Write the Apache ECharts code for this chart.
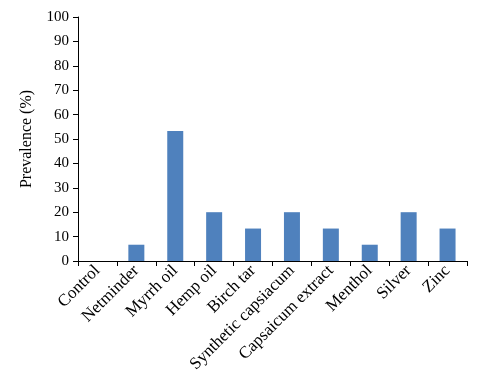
<!DOCTYPE html>
<html>
<head>
<meta charset="utf-8">
<script src="https://cdn.jsdelivr.net/npm/echarts@6/dist/echarts.min.js"></script>
<style>
  html, body { margin: 0; padding: 0; background: #fff; }
  #chart { width: 484px; height: 388px; }
</style>
</head>
<body>
<div id="chart"></div>
<script>
// treatments and prevalence values (%)
const categories = ["Control", "Netminder", "Myrrh oil", "Hemp oil", "Birch tar",
  "Synthetic capsiacum", "Capsaicum extract", "Menthol", "Silver", "Zinc"];
const prevalence = [0, 6.67, 53.3, 20, 13.3, 20, 13.3, 6.67, 20, 13.3];

const font = "'Liberation Serif', 'Times New Roman', serif";
const myChart = echarts.init(document.getElementById("chart"), null, { renderer: "canvas" });

const option = {
  animation: false,
  grid: { left: 78, right: 17, top: 17, bottom: 127, containLabel: false },
  xAxis: {
    type: "category",
    data: categories,
    axisLine: { lineStyle: { color: "#000", width: 1 } },
    axisTick: { show: true, length: 5, lineStyle: { color: "#000" } },
    axisLabel: {
      interval: 0,
      rotate: 45,
      color: "#000",
      fontFamily: font,
      fontSize: 17,
      margin: 7
    }
  },
  yAxis: {
    type: "value",
    min: 0,
    max: 100,
    interval: 10,
    name: "Prevalence (%)",
    nameLocation: "middle",
    nameGap: 43,
    nameTextStyle: { color: "#000", fontFamily: font, fontSize: 16 },
    axisLine: { show: true, lineStyle: { color: "#000", width: 1 } },
    axisTick: { show: true, length: 5, lineStyle: { color: "#000" } },
    axisLabel: { color: "#000", fontFamily: font, fontSize: 15, margin: 9 },
    splitLine: { show: false }
  },
  series: [{
    type: "bar",
    data: prevalence,
    barWidth: 16,
    itemStyle: { color: "#4f81bd" }
  }]
};

myChart.setOption(option);
</script>
</body>
</html>
